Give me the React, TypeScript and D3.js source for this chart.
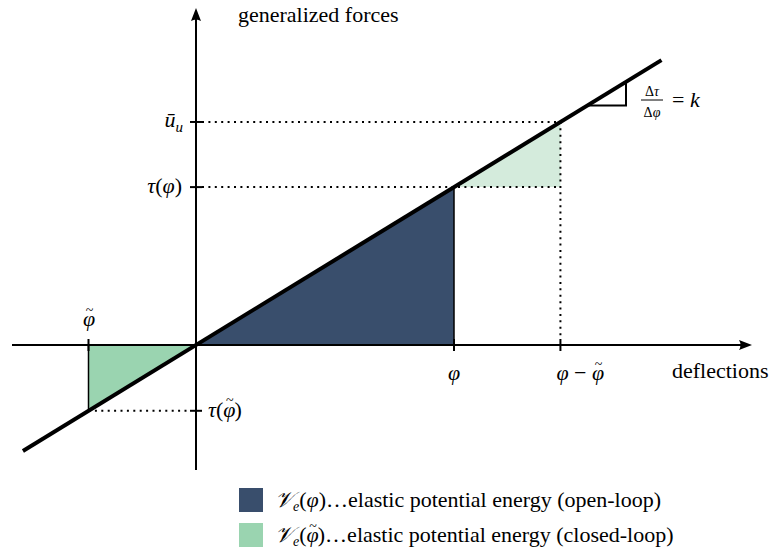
import * as d3 from "d3";

// slope of the characteristic line (data units)
const K = 0.612;
// deflection positions on the x axis
const PHI_TILDE = -1.0;
const PHI = 2.4;
const PHI_MINUS_TILDE = 3.39;
// extent of the drawn characteristic line
const LINE_X = [-1.61, 4.33];
// small slope triangle
const SLOPE_X = [3.64, 4.0];

const legendColors = ["#394e6c", "#9ad4b0"];
const legendTilde = [false, true];
const legendTexts = [
  "elastic potential energy (open-loop)",
  "elastic potential energy (closed-loop)",
];

const W = 770;
const H = 552;
const FONT = "Liberation Serif";

export default function App() {
  const x = d3.scaleLinear().domain([0, 1]).range([196, 303.5]);
  const y = d3.scaleLinear().domain([0, 1]).range([345, 237.5]);
  const f = (v: number) => K * v;

  const x0 = x(0), y0 = y(0);
  const line = d3.line<number>().x((d) => x(d)).y((d) => y(f(d)));
  const poly = (pts: [number, number][]) =>
    d3.line<[number, number]>().x((d) => x(d[0])).y((d) => y(d[1]))(pts) + "Z";

  const dark = poly([[0, 0], [PHI, f(PHI)], [PHI, 0]]);
  const green = poly([[0, 0], [PHI_TILDE, 0], [PHI_TILDE, f(PHI_TILDE)]]);
  const pale = poly([
    [PHI, f(PHI)],
    [PHI_MINUS_TILDE, f(PHI)],
    [PHI_MINUS_TILDE, f(PHI_MINUS_TILDE)],
  ]);
  const slope = d3.line()([
    [x(SLOPE_X[0]), y(f(SLOPE_X[0]))],
    [x(SLOPE_X[1]), y(f(SLOPE_X[0]))],
    [x(SLOPE_X[1]), y(f(SLOPE_X[1]))],
  ]) as string;

  const dot = { stroke: "#000", strokeWidth: 2, strokeDasharray: "2 4.4", fill: "none" };
  const tk = 6;
  const T = { fontFamily: FONT, fontSize: 22 };
  const S = { fontFamily: FONT, fontSize: 14 };
  const it = { fontStyle: "italic" as const };

  // italic phi followed by a small tilde lifted above it
  const phiT = (after: string) => [
    <tspan key="p" style={it}>φ</tspan>,
    <tspan key="t" dx={-9.5} dy={-11.5} style={{ fontSize: 14 }}>~</tspan>,
    <tspan key="a" dx={1} dy={11.5}>{after}</tspan>,
  ];

  const axL = 12, axR = 752, ayT = 8, ayB = 470;

  return (
    <svg width={W} height={H} style={{ position: "absolute", left: 0, top: 0 }}>
      <rect width={W} height={H} fill="#fff" />

      {/* filled areas */}
      <path d={dark} fill={legendColors[0]} />
      <path d={green} fill={legendColors[1]} />
      <path d={pale} fill="#d4ebdc" />
      <line x1={x(PHI)} x2={x(PHI)} y1={y(f(PHI))} y2={y0} stroke="#000" strokeWidth={1.5} />
      <line x1={x(PHI_TILDE)} x2={x(PHI_TILDE)} y1={y(f(PHI_TILDE))} y2={y0} stroke="#000" strokeWidth={1.5} />

      {/* dotted helpers */}
      <line x1={x0 + tk} x2={x(PHI_MINUS_TILDE)} y1={y(f(PHI))} y2={y(f(PHI))} style={dot} />
      <line x1={x0 + tk} x2={x(PHI_MINUS_TILDE)} y1={y(f(PHI_MINUS_TILDE))} y2={y(f(PHI_MINUS_TILDE))} style={dot} />
      <line x1={x(PHI_MINUS_TILDE)} x2={x(PHI_MINUS_TILDE)} y1={y(f(PHI_MINUS_TILDE))} y2={y0 - tk} style={dot} />
      <line x1={x(PHI_TILDE)} x2={x0 - tk} y1={y(f(PHI_TILDE))} y2={y(f(PHI_TILDE))} style={dot} />

      {/* axes */}
      <line x1={axL} x2={axR - 6} y1={y0} y2={y0} stroke="#000" strokeWidth={2} />
      <path d={`M${axR},${y0} L${axR - 13},${y0 - 5} Q${axR - 10},${y0} ${axR - 13},${y0 + 5} Z`} fill="#000" />
      <line x1={x0} x2={x0} y1={ayB} y2={ayT + 6} stroke="#000" strokeWidth={2} />
      <path d={`M${x0},${ayT} L${x0 - 5},${ayT + 13} Q${x0},${ayT + 10} ${x0 + 5},${ayT + 13} Z`} fill="#000" />

      {/* ticks */}
      {[PHI_TILDE, PHI, PHI_MINUS_TILDE].map((v) => (
        <line key={v} x1={x(v)} x2={x(v)} y1={y0 - tk} y2={y0 + tk} stroke="#000" strokeWidth={2} />
      ))}
      {[f(PHI_TILDE), f(PHI), f(PHI_MINUS_TILDE)].map((v) => (
        <line key={v} x1={x0 - tk} x2={x0 + tk} y1={y(v)} y2={y(v)} stroke="#000" strokeWidth={2} />
      ))}

      {/* characteristic line */}
      <path d={line(LINE_X) as string} stroke="#000" strokeWidth={4} fill="none" />
      <path d={slope} stroke="#000" strokeWidth={2} fill="none" />

      {/* labels */}
      <text style={T} x={x0 + 42} y={22}>generalized forces</text>
      <text style={T} x={672} y={y0 + 33}>deflections</text>

      <text style={T} x={x(PHI_TILDE) - 5.5} y={y0 - 19}>{phiT("")}</text>
      <text style={{ ...T, ...it }} x={x(PHI)} y={y0 + 35} textAnchor="middle">φ</text>
      <text style={T} x={x(PHI_MINUS_TILDE) - 4} y={y0 + 35}>
        <tspan style={it}>φ</tspan> − {phiT("")}
      </text>

      <text style={T} x={x0 - 13} y={y(f(PHI_MINUS_TILDE)) + 5} textAnchor="end">
        <tspan style={it}>ū</tspan>
        <tspan style={{ ...it, fontSize: 15 }} dy={5}>u</tspan>
      </text>
      <text style={T} x={x0 - 14} y={y(f(PHI)) + 6} textAnchor="end">
        <tspan style={it}>τ</tspan>(<tspan style={it}>φ</tspan>)
      </text>
      <text style={T} x={x0 + 12} y={y(f(PHI_TILDE)) + 6}>
        <tspan style={it}>τ</tspan>({phiT(")")}
      </text>

      {/* slope label */}
      <text style={S} x={652} y={96} textAnchor="middle">Δ<tspan style={it}>τ</tspan></text>
      <text style={S} x={652} y={117} textAnchor="middle">Δ<tspan style={it}>φ</tspan></text>
      <line x1={641} x2={663} y1={100} y2={100} stroke="#000" strokeWidth={1} />
      <text style={T} x={672} y={107}>= <tspan style={it}>k</tspan></text>

      {/* legend */}
      {legendTexts.map((t, i) => (
        <g key={t} transform={`translate(239,${488 + i * 35})`}>
          <rect width={24} height={24} fill={legendColors[i]} />
          <text style={T} x={36} y={19}>
            <tspan style={it}>𝒱</tspan>
            <tspan style={{ ...it, fontSize: 14 }} dy={4}>e</tspan>
            <tspan dy={-4}>(</tspan>
            {legendTilde[i] ? phiT(")…" + t) : [<tspan key="p" style={it}>φ</tspan>, <tspan key="a">)…{t}</tspan>]}
          </text>
        </g>
      ))}
    </svg>
  );
}
